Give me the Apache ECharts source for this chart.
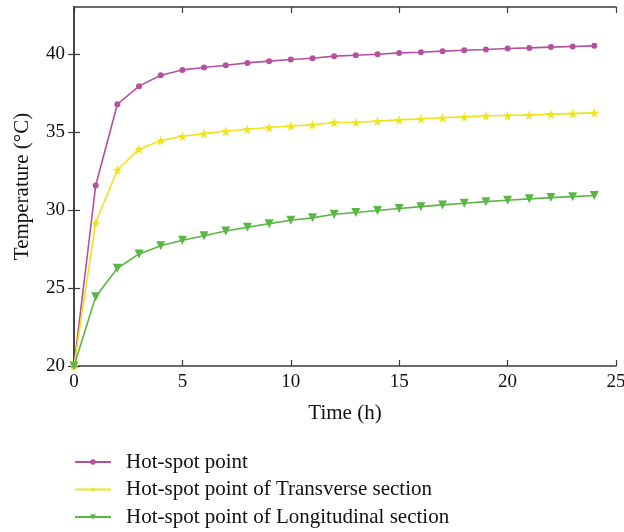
<!DOCTYPE html>
<html>
<head>
<meta charset="utf-8">
<script src="https://cdn.jsdelivr.net/npm/echarts@6/dist/echarts.min.js"></script>
<style>html,body{margin:0;padding:0;background:#fff;}#c{width:624px;height:532px;}</style>
</head>
<body>
<div id="c"></div>
<script>
const times = [0,1,2,3,4,5,6,7,8,9,10,11,12,13,14,15,16,17,18,19,20,21,22,23,24];
const hotSpot = [20,31.56,36.77,37.93,38.63,38.97,39.12,39.27,39.42,39.53,39.64,39.72,39.85,39.91,39.97,40.06,40.1,40.17,40.23,40.28,40.34,40.38,40.43,40.47,40.51];
const transverse = [20,29.19,32.56,33.89,34.44,34.72,34.89,35.04,35.17,35.28,35.38,35.45,35.6,35.6,35.69,35.77,35.83,35.9,35.96,36.03,36.05,36.09,36.13,36.17,36.22];
const longitudinal = [20,24.44,26.26,27.18,27.71,28.06,28.35,28.65,28.89,29.12,29.34,29.49,29.72,29.83,29.96,30.09,30.21,30.32,30.43,30.53,30.62,30.71,30.79,30.85,30.92];
const seriesNames = ['Hot-spot point','Hot-spot point of Transverse section','Hot-spot point of Longitudinal section'];
const yTicks = [20,25,30,35,40];

const FONT = 'Liberation Serif';
const axisColor = '#3a3a3a';
const pair = arr => times.map((t,i)=>[t,arr[i]]);
const star = 'path://M50,0 L61,35 L98,35 L68,57 L79,91 L50,70 L21,91 L32,57 L2,35 L39,35 Z';

const chart = echarts.init(document.getElementById('c'), null, {renderer:'canvas'});
const baseAxisLine = {show:true, lineStyle:{color:axisColor, width:1.5}};
chart.setOption({
  backgroundColor:'#fff',
  animation:false,
  textStyle:{fontFamily:FONT},
  grid:{left:74, right:8, top:7, bottom:166, outerBoundsMode:'none', containLabel:false},
  legend:{
    orient:'vertical', left:74, top:451, height:90, padding:0,
    itemWidth:36, itemHeight:7, itemGap:5.5,
    textStyle:{fontFamily:FONT, fontSize:21, color:'#111', lineHeight:22, padding:[0,0,0,10]},
    data:seriesNames
  },
  xAxis:[{
    type:'value', min:0, max:25, interval:5,
    name:'Time (h)', nameLocation:'middle', nameGap:37,
    nameTextStyle:{fontFamily:FONT, fontSize:21, color:'#111'},
    axisLine:baseAxisLine,
    axisTick:{show:true, inside:true, length:6, lineStyle:{color:axisColor, width:1.2}},
    axisLabel:{fontFamily:FONT, fontSize:19, color:'#111', margin:7},
    splitLine:{show:false}
  },{
    type:'value', position:'top', min:0, max:25, interval:5,
    axisLine:baseAxisLine,
    axisTick:{show:true, inside:true, length:6, lineStyle:{color:axisColor, width:1.2}},
    axisLabel:{show:false}, splitLine:{show:false}
  }],
  yAxis:[{
    type:'value', min:20, max:43,
    name:'Temperature (°C)', nameLocation:'middle', nameGap:41,
    nameTextStyle:{fontFamily:FONT, fontSize:21, color:'#111'},
    axisLine:baseAxisLine,
    axisTick:{show:true, inside:true, length:6, customValues:yTicks, lineStyle:{color:axisColor, width:1.2}},
    axisLabel:{fontFamily:FONT, fontSize:19, color:'#111', margin:9, customValues:yTicks},
    splitLine:{show:false}
  },{
    type:'value', position:'right', min:20, max:43,
    axisLine:baseAxisLine,
    axisTick:{show:true, inside:true, length:6, customValues:yTicks, lineStyle:{color:axisColor, width:1.2}},
    axisLabel:{show:false, customValues:yTicks}, splitLine:{show:false}
  }],
  series:[{
    name:seriesNames[0], type:'line', data:pair(hotSpot),
    symbol:'circle', symbolSize:6,
    itemStyle:{color:'#b5509f'}, lineStyle:{color:'#b5509f', width:1.6}
  },{
    name:seriesNames[1], type:'line', data:pair(transverse),
    symbol:star, symbolSize:10,
    itemStyle:{color:'#eee41a'}, lineStyle:{color:'#eee41a', width:1.6}
  },{
    name:seriesNames[2], type:'line', data:pair(longitudinal),
    symbol:'triangle', symbolRotate:180, symbolSize:9,
    itemStyle:{color:'#5cb646'}, lineStyle:{color:'#5cb646', width:1.6}
  }]
});
</script>
</body>
</html>
